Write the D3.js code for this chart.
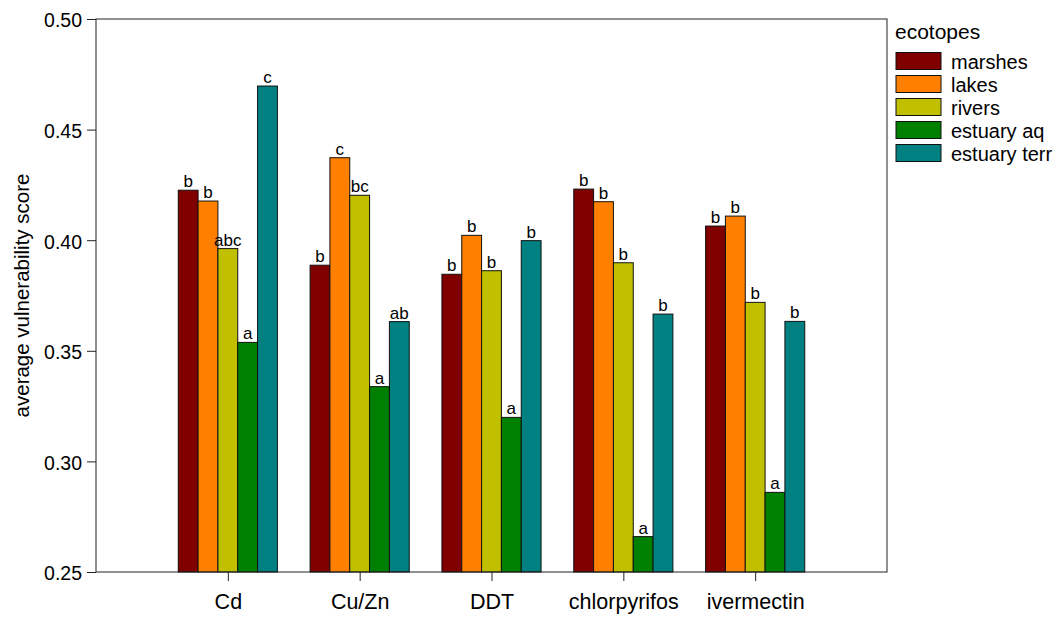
<!DOCTYPE html>
<html>
<head>
<meta charset="utf-8">
<script src="https://cdn.jsdelivr.net/npm/d3@7"></script>
<style>
  body { margin: 0; background: #fff; }
  svg text { font-family: "Liberation Sans", Arial, sans-serif; fill: #000; }
</style>
</head>
<body>
<svg id="chart" width="1056" height="617"></svg>
<script>
// data
const compounds = ["Cd", "Cu/Zn", "DDT", "chlorpyrifos", "ivermectin"]
const ecotopes = ["marshes", "lakes", "rivers", "estuary aq", "estuary terr"]
const ecoColors = ["#800000", "#ff8000", "#c0c000", "#008000", "#008080"]

const marshes = [0.4226, 0.3887, 0.3846, 0.4231, 0.4064]
const lakes = [0.4177, 0.4373, 0.4022, 0.4174, 0.4109]
const rivers = [0.3962, 0.4203, 0.3862, 0.3898, 0.3719]
const estuaryAq = [0.3538, 0.3338, 0.3199, 0.2660, 0.2860]
const estuaryTerr = [0.4697, 0.3632, 0.3998, 0.3666, 0.3633]

const marshesLetters = ["b", "b", "b", "b", "b"]
const lakesLetters = ["b", "c", "b", "b", "b"]
const riversLetters = ["abc", "bc", "b", "b", "b"]
const estuaryAqLetters = ["a", "a", "a", "a", "a"]
const estuaryTerrLetters = ["c", "ab", "b", "b", "b"]

const yTicks = [0.25, 0.30, 0.35, 0.40, 0.45, 0.50]

const seriesValues = [marshes, lakes, rivers, estuaryAq, estuaryTerr]
const seriesLetters = [marshesLetters, lakesLetters, riversLetters, estuaryAqLetters, estuaryTerrLetters]

const svg = d3.select("#chart")
const plotLeft = 96, plotRight = 887, plotTop = 19, plotBottom = 572

let x = d3.scalePoint()
    .domain(compounds)
    .range([plotLeft, plotRight])
    .padding(1)

let groupWidth = x.step() * 0.752
let xInner = d3.scaleBand()
    .domain(ecotopes)
    .range([-groupWidth / 2, groupWidth / 2])

let y = d3.scaleLinear()
    .domain([0.25, 0.50])
    .range([plotBottom, plotTop])

// bars, one row of data per compound / ecotope pair
let rows = []
compounds.forEach(function (c, ci) {
    ecotopes.forEach(function (e, ei) {
        rows.push({ compound: c, eco: e, value: seriesValues[ei][ci], letter: seriesLetters[ei][ci], color: ecoColors[ei] })
    })
})

svg.selectAll(".bar")
    .data(rows)
    .enter()
    .append("rect")
    .attr("class", "bar")
    .attr("x", function (d) { return x(d.compound) + xInner(d.eco) })
    .attr("y", function (d) { return y(d.value) })
    .attr("width", xInner.bandwidth())
    .attr("height", function (d) { return plotBottom - y(d.value) })
    .attr("fill", function (d) { return d.color })
    .attr("stroke", "#111")
    .attr("stroke-width", 1)

svg.selectAll(".letter")
    .data(rows)
    .enter()
    .append("text")
    .attr("class", "letter")
    .attr("x", function (d) { return x(d.compound) + xInner(d.eco) + xInner.bandwidth() / 2 })
    .attr("y", function (d) { return y(d.value) - 3 })
    .attr("text-anchor", "middle")
    .style("font-size", "17px")
    .text(function (d) { return d.letter })

// frame
svg.append("rect")
    .attr("x", plotLeft).attr("y", plotTop)
    .attr("width", plotRight - plotLeft).attr("height", plotBottom - plotTop)
    .attr("fill", "none")
    .attr("stroke", "#222")
    .attr("stroke-width", 1)

// axes
let yAxis = d3.axisLeft(y)
    .tickValues(yTicks)
    .tickFormat(d3.format(".2f"))
    .tickSize(9)
    .tickPadding(5)
let gy = svg.append("g")
    .attr("transform", "translate(" + plotLeft + ",0)")
    .call(yAxis)
gy.select(".domain").remove()
gy.selectAll("text").style("font-size", "19.5px").attr("font-family", null).attr("dy", "0.4em")
gy.selectAll("line").attr("stroke", "#222")

let xAxis = d3.axisBottom(x)
    .tickSize(9)
    .tickPadding(13)
let gx = svg.append("g")
    .attr("transform", "translate(0," + plotBottom + ")")
    .call(xAxis)
gx.select(".domain").remove()
gx.selectAll("text").style("font-size", "21.5px").attr("font-family", null)
gx.selectAll("line").attr("stroke", "#222")

svg.append("text")
    .attr("transform", "translate(29," + ((plotTop + plotBottom) / 2) + ") rotate(-90)")
    .attr("text-anchor", "middle")
    .style("font-size", "20.5px")
    .text("average vulnerability score")

// legend
let legend = svg.append("g").attr("transform", "translate(896,0)")
legend.append("text")
    .attr("x", -1).attr("y", 39)
    .style("font-size", "21px")
    .text("ecotopes")

let items = legend.selectAll(".item")
    .data(ecotopes)
    .enter()
    .append("g")
    .attr("class", "item")
    .attr("transform", function (d, i) { return "translate(0," + (52.5 + i * 23) + ")" })
items.append("rect")
    .attr("width", 45).attr("height", 17)
    .attr("fill", function (d, i) { return ecoColors[i] })
    .attr("stroke", "#111")
items.append("text")
    .attr("x", 55).attr("y", 16)
    .style("font-size", "20px")
    .text(function (d) { return d })
</script>
</body>
</html>
